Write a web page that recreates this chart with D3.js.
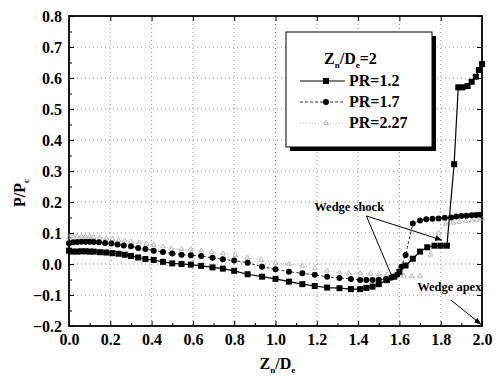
<!DOCTYPE html>
<html>
<head>
<meta charset="utf-8">
<script src="https://cdn.jsdelivr.net/npm/d3@7"></script>
<style>
  body { margin: 0; background: #fff; }
  text { font-family: "Liberation Serif", "Times New Roman", serif; font-weight: bold; }
</style>
</head>
<body>
<svg id="chart" width="497" height="377"></svg>
<script>
// PR=1.2 (squares)
const pr12X = [0, 0.02, 0.04, 0.06, 0.08, 0.1, 0.12, 0.15, 0.18, 0.21, 0.24, 0.27, 0.30, 0.335, 0.37, 0.41, 0.455, 0.50, 0.545, 0.59, 0.64, 0.695, 0.745, 0.80, 0.865, 0.935, 1.0, 1.065, 1.13, 1.19, 1.25, 1.31, 1.365, 1.41, 1.44, 1.47, 1.50, 1.54, 1.575, 1.60, 1.63, 1.665, 1.70, 1.735, 1.77, 1.80, 1.83, 1.865, 1.885, 1.905, 1.93, 1.95, 1.97, 1.985, 2.0]
const pr12Y = [0.043, 0.04, 0.04, 0.041, 0.041, 0.04, 0.04, 0.038, 0.037, 0.035, 0.033, 0.03, 0.026, 0.021, 0.016, 0.013, 0.007, 0.002, 0.0, -0.002, -0.006, -0.011, -0.015, -0.022, -0.033, -0.041, -0.048, -0.057, -0.065, -0.071, -0.076, -0.078, -0.081, -0.081, -0.077, -0.073, -0.065, -0.052, -0.041, -0.025, -0.005, 0.017, 0.04, 0.054, 0.059, 0.059, 0.059, 0.322, 0.57, 0.57, 0.574, 0.588, 0.604, 0.626, 0.645]

// PR=1.7 (circles)
const pr17X = [0, 0.02, 0.04, 0.06, 0.08, 0.1, 0.12, 0.145, 0.175, 0.205, 0.235, 0.265, 0.30, 0.335, 0.37, 0.41, 0.455, 0.50, 0.545, 0.59, 0.64, 0.695, 0.745, 0.80, 0.865, 0.935, 1.0, 1.065, 1.13, 1.19, 1.25, 1.31, 1.365, 1.41, 1.44, 1.47, 1.50, 1.535, 1.56, 1.59, 1.61, 1.63, 1.665, 1.70, 1.73, 1.76, 1.79, 1.82, 1.85, 1.875, 1.90, 1.925, 1.95, 1.97, 1.99]
const pr17Y = [0.067, 0.07, 0.071, 0.072, 0.072, 0.072, 0.071, 0.07, 0.068, 0.066, 0.063, 0.06, 0.057, 0.052, 0.048, 0.043, 0.039, 0.034, 0.03, 0.028, 0.026, 0.02, 0.015, 0.011, 0.004, -0.009, -0.017, -0.025, -0.03, -0.035, -0.041, -0.045, -0.048, -0.052, -0.052, -0.052, -0.051, -0.048, -0.044, -0.035, -0.009, 0.029, 0.131, 0.14, 0.144, 0.146, 0.147, 0.149, 0.15, 0.153, 0.155, 0.156, 0.157, 0.158, 0.159]

// PR=2.27 (faint triangles)
const pr227X = [0, 0.02, 0.04, 0.06, 0.08, 0.1, 0.12, 0.15, 0.18, 0.21, 0.24, 0.27, 0.30, 0.34, 0.375, 0.41, 0.455, 0.495, 0.545, 0.59, 0.64, 0.69, 0.745, 0.805, 0.865, 0.93, 1.0, 1.065, 1.13, 1.19, 1.25, 1.31, 1.355, 1.41, 1.46, 1.50, 1.54, 1.58, 1.62, 1.66, 1.70, 1.75, 1.79, 1.825, 1.86, 1.89, 1.92, 1.95, 1.975, 2.0]
const pr227Y = [0.086, 0.088, 0.089, 0.089, 0.089, 0.088, 0.087, 0.085, 0.083, 0.08, 0.077, 0.075, 0.072, 0.069, 0.065, 0.061, 0.056, 0.05, 0.048, 0.047, 0.043, 0.038, 0.034, 0.029, 0.02, 0.013, 0.004, 0.0, -0.006, -0.014, -0.022, -0.028, -0.03, -0.03, -0.031, -0.033, -0.035, -0.035, -0.038, -0.04, -0.04, 0.03, 0.1, 0.13, 0.133, 0.135, 0.138, 0.14, 0.143, 0.147]

const xTicks = [0, 0.2, 0.4, 0.6, 0.8, 1.0, 1.2, 1.4, 1.6, 1.8, 2.0]
const yTicks = [-0.2, -0.1, 0.0, 0.1, 0.2, 0.3, 0.4, 0.5, 0.6, 0.7, 0.8]

const width = 497, height = 377
const margin = { top: 16, right: 15, bottom: 51, left: 69 }
const innerW = width - margin.left - margin.right
const innerH = height - margin.top - margin.bottom

let svg = d3.select("#chart")
svg.append("rect").attr("width", width).attr("height", height).attr("fill", "#fff")

let g = svg.append("g").attr("transform", `translate(${margin.left},${margin.top})`)

let xScale = d3.scaleLinear().domain([0, 2]).range([0, innerW])
let yScale = d3.scaleLinear().domain([-0.2, 0.8]).range([innerH, 0])

// grid
g.append("g")
    .selectAll("line")
    .data(xTicks.slice(1, -1))
    .join("line")
    .attr("x1", d => xScale(d)).attr("x2", d => xScale(d))
    .attr("y1", 0).attr("y2", innerH)
    .attr("stroke", "#777").attr("stroke-width", 0.8)
    .attr("stroke-dasharray", "1,3")

g.append("g")
    .selectAll("line")
    .data(yTicks.slice(1, -1))
    .join("line")
    .attr("y1", d => yScale(d)).attr("y2", d => yScale(d))
    .attr("x1", 0).attr("x2", innerW)
    .attr("stroke", "#777").attr("stroke-width", 0.8)
    .attr("stroke-dasharray", "1,3")

// axes with inward ticks
const fmt = d3.format(".1f")
let minorX = d3.range(0.1, 2, 0.2)
let minorY = d3.range(-0.15, 0.8, 0.1)

let xAxis = g.append("g").attr("transform", `translate(0,${innerH})`)
    .call(d3.axisBottom(xScale).tickValues(xTicks).tickFormat(fmt).tickSizeInner(-5).tickSizeOuter(0).tickPadding(8))
xAxis.selectAll("text").attr("font-size", 16).attr("fill", "#000")
xAxis.select(".domain").remove()

let yAxis = g.append("g")
    .call(d3.axisLeft(yScale).tickValues(yTicks).tickFormat(fmt).tickSizeInner(-5).tickSizeOuter(0).tickPadding(7))
yAxis.selectAll("text").attr("font-size", 16).attr("fill", "#000")
yAxis.select(".domain").remove()

g.append("g").attr("transform", `translate(0,${innerH})`)
    .call(d3.axisBottom(xScale).tickValues(minorX).tickFormat("").tickSizeInner(-3).tickSizeOuter(0))
    .select(".domain").remove()
g.append("g")
    .call(d3.axisLeft(yScale).tickValues(minorY).tickFormat("").tickSizeInner(-3).tickSizeOuter(0))
    .select(".domain").remove()
g.append("g")
    .call(d3.axisTop(xScale).tickValues(xTicks).tickFormat("").tickSizeInner(-5).tickSizeOuter(0))
    .select(".domain").remove()
g.append("g").attr("transform", `translate(${innerW},0)`)
    .call(d3.axisRight(yScale).tickValues(yTicks).tickFormat("").tickSizeInner(-5).tickSizeOuter(0))
    .select(".domain").remove()

// frame
g.append("rect")
    .attr("width", innerW).attr("height", innerH)
    .attr("fill", "none").attr("stroke", "#000").attr("stroke-width", 1.8)

// series
let series = [
    { name: "PR=1.2", xs: pr12X, ys: pr12Y, color: "#000", width: 1.2, dash: null, marker: "square" },
    { name: "PR=1.7", xs: pr17X, ys: pr17Y, color: "#000", width: 0.8, dash: "3,2", marker: "circle" },
    { name: "PR=2.27", xs: pr227X, ys: pr227Y, color: "#aaa", width: 0.7, dash: "1,2", marker: "triangle" }
]

let line = d3.line().x(d => xScale(d[0])).y(d => yScale(d[1]))

function drawMarker(sel, type, color) {
    if (type === "square") {
        sel.append("rect").attr("x", -3).attr("y", -3).attr("width", 6).attr("height", 6).attr("fill", color)
    } else if (type === "circle") {
        sel.append("circle").attr("r", 3).attr("fill", color)
    } else {
        sel.append("path").attr("d", d3.symbol(d3.symbolTriangle, 10)()).attr("fill", "none")
            .attr("stroke", color).attr("stroke-width", 0.8)
    }
}

series.slice().reverse().forEach(s => {
    let pts = s.xs.map((x, i) => [x, s.ys[i]])
    g.append("path")
        .datum(pts)
        .attr("d", line)
        .attr("fill", "none")
        .attr("stroke", s.color)
        .attr("stroke-width", s.width)
        .attr("stroke-dasharray", s.dash)
    g.append("g")
        .selectAll("g")
        .data(pts)
        .join("g")
        .attr("transform", d => `translate(${xScale(d[0])},${yScale(d[1])})`)
        .each(function () { drawMarker(d3.select(this), s.marker, s.color) })
})

// annotations
svg.append("defs").append("marker")
    .attr("id", "arrow").attr("viewBox", "0 0 10 10")
    .attr("refX", 10).attr("refY", 5)
    .attr("markerWidth", 7).attr("markerHeight", 7)
    .attr("orient", "auto-start-reverse")
    .append("path").attr("d", "M0,1 L10,5 L0,9 z").attr("fill", "#000")

let shockFrom = { x: 1.44, y: 0.155 }
let shockTargets = [{ x: 1.565, y: -0.042 }, { x: 1.807, y: 0.077 }]

g.append("text").attr("x", xScale(1.188)).attr("y", yScale(0.171))
    .attr("font-size", 12.5).text("Wedge shock")
shockTargets.forEach((t, i) => {
    g.append("line")
        .attr("x1", xScale(shockFrom.x)).attr("y1", yScale(shockFrom.y))
        .attr("x2", xScale(t.x)).attr("y2", yScale(t.y))
        .attr("stroke", "#000").attr("stroke-width", 1)
        .attr("marker-end", i === 1 ? "url(#arrow)" : null)
})

g.append("text").attr("x", xScale(1.686)).attr("y", yScale(-0.087))
    .attr("font-size", 12.5).text("Wedge apex")
g.append("line")
    .attr("x1", xScale(1.849)).attr("y1", yScale(-0.116))
    .attr("x2", xScale(1.996)).attr("y2", yScale(-0.195))
    .attr("stroke", "#000").attr("stroke-width", 1)
    .attr("marker-end", "url(#arrow)")

// legend
let lx = 286, ly = 32, lw = 146, lh = 115
let legend = svg.append("g")
legend.append("rect").attr("x", lx + 4).attr("y", ly + 4).attr("width", lw).attr("height", lh).attr("fill", "#000")
legend.append("rect").attr("x", lx).attr("y", ly).attr("width", lw).attr("height", lh)
    .attr("fill", "#fff").attr("stroke", "#000").attr("stroke-width", 1)

let title = legend.append("text").attr("x", lx + 68).attr("y", ly + 32).attr("font-size", 16)
title.append("tspan").attr("x", lx + 38).text("Z")
title.append("tspan").attr("font-size", 9).attr("dy", 4).text("n")
title.append("tspan").attr("dy", -4).text("/D")
title.append("tspan").attr("font-size", 9).attr("dy", 4).text("e")
title.append("tspan").attr("dy", -4).text("=2")

series.forEach((s, i) => {
    let yy = ly + 54 + i * 21
    let row = legend.append("g")
    row.append("line").attr("x1", lx + 14).attr("x2", lx + 59)
        .attr("y1", yy - 5).attr("y2", yy - 5)
        .attr("stroke", s.color).attr("stroke-width", s.width).attr("stroke-dasharray", s.dash)
    drawMarker(row.append("g").attr("transform", `translate(${lx + 40},${yy - 5})`), s.marker, s.color)
    row.append("text").attr("x", lx + 63).attr("y", yy).attr("font-size", 16).text(s.name)
})

// axis titles
let xt = svg.append("text").attr("x", margin.left + innerW / 2 - 16).attr("y", 369).attr("font-size", 16)
xt.append("tspan").text("Z")
xt.append("tspan").attr("font-size", 9).attr("dy", 4).text("n")
xt.append("tspan").attr("dy", -4).text("/D")
xt.append("tspan").attr("font-size", 9).attr("dy", 4).text("e")

let yt = svg.append("text").attr("transform", `translate(25,${margin.top + innerH / 2 + 22}) rotate(-90)`)
    .attr("text-anchor", "middle").attr("font-size", 16)
yt.append("tspan").text("P/P")
yt.append("tspan").attr("font-size", 9).attr("dy", 4).text("c")
</script>
</body>
</html>
